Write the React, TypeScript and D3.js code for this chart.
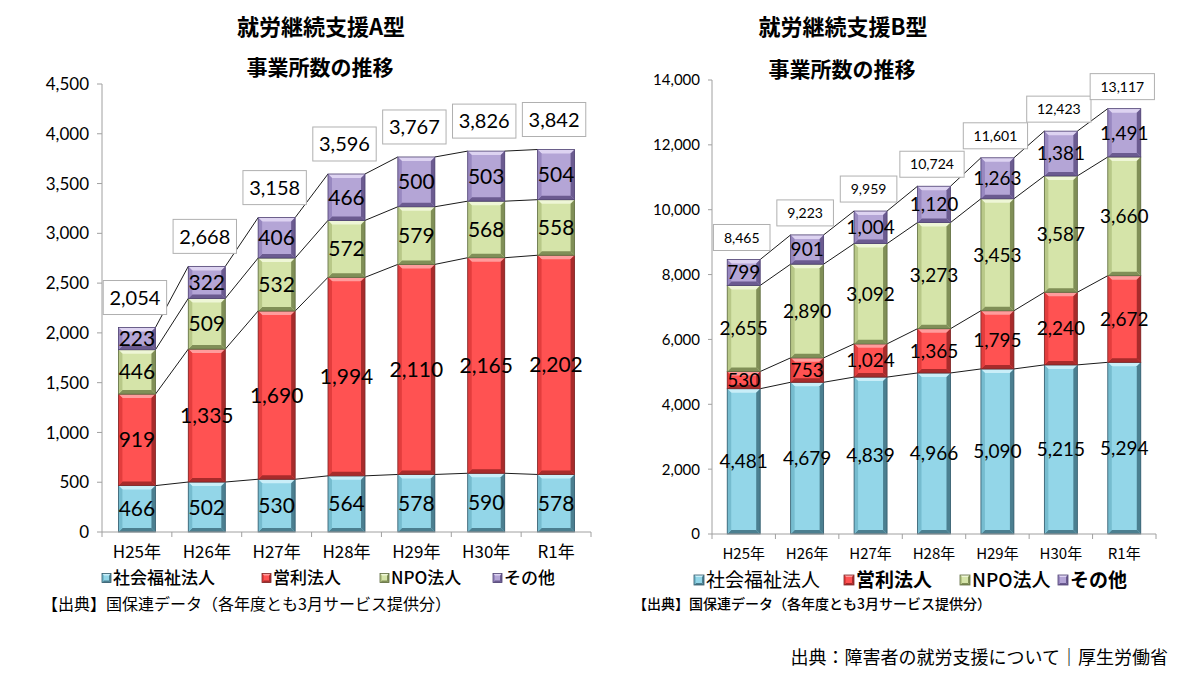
import React from 'react';
import * as d3 from 'd3';

const categories = ['H25年', 'H26年', 'H27年', 'H28年', 'H29年', 'H30年', 'R1年'];
const seriesNames = ['社会福祉法人', '営利法人', 'NPO法人', 'その他'];

// 就労継続支援A型
const aSocial = [466, 502, 530, 564, 578, 590, 578];
const aCorp = [919, 1335, 1690, 1994, 2110, 2165, 2202];
const aNpo = [446, 509, 532, 572, 579, 568, 558];
const aOther = [223, 322, 406, 466, 500, 503, 504];
const aTotals = [2054, 2668, 3158, 3596, 3767, 3826, 3842];
const aTicks = [0, 500, 1000, 1500, 2000, 2500, 3000, 3500, 4000, 4500];

// 就労継続支援B型
const bSocial = [4481, 4679, 4839, 4966, 5090, 5215, 5294];
const bCorp = [530, 753, 1024, 1365, 1795, 2240, 2672];
const bNpo = [2655, 2890, 3092, 3273, 3453, 3587, 3660];
const bOther = [799, 901, 1004, 1120, 1263, 1381, 1491];
const bTotals = [8465, 9223, 9959, 10724, 11601, 12423, 13117];
const bTicks = [0, 2000, 4000, 6000, 8000, 10000, 12000, 14000];

const palette = [
  { base: '#93d6e8', light: '#c9eef8', side: '#76bccf', dark: '#4b7f90', stroke: '#33596a' },
  { base: '#ff5252', light: '#ff9c9c', side: '#e33d3d', dark: '#a82b2b', stroke: '#7a2a2a' },
  { base: '#d5e4a9', light: '#eef6d6', side: '#b8c888', dark: '#808f57', stroke: '#5e6b40' },
  { base: '#b4a5d6', light: '#ddd3f1', side: '#9888c0', dark: '#6b5b90', stroke: '#4f4272' },
];

const NUM_FONT = "Lato, 'Noto Sans', sans-serif";
const JP_FONT = "'Noto Sans CJK JP', 'Noto Sans', sans-serif";
const fmt = d3.format(',');

function Bevel({ x, y, w, h, c, d0 = 4 }: any) {
  const d = Math.max(0, Math.min(d0, h / 3, w / 3));
  const p = (pts: number[][]) => pts.map((q) => q.join(',')).join(' ');
  return (
    <g>
      <rect x={x} y={y} width={w} height={h} fill={c.base} />
      <polygon points={p([[x, y], [x + w, y], [x + w - d, y + d], [x + d, y + d]])} fill={c.light} />
      <polygon points={p([[x, y + h], [x + w, y + h], [x + w - d, y + h - d], [x + d, y + h - d]])} fill={c.dark} />
      <polygon points={p([[x, y], [x + d, y + d], [x + d, y + h - d], [x, y + h]])} fill={c.side} />
      <polygon points={p([[x + w, y], [x + w - d, y + d], [x + w - d, y + h - d], [x + w, y + h]])} fill={c.dark} />
      <rect x={x} y={y} width={w} height={h} fill="none" stroke={c.stroke} strokeWidth={0.8} />
    </g>
  );
}

function StackChart(props: any) {
  const { xr, yr, max, ticks, values, totals, pi, segFont, tickFont, catFont, boxFont, boxH, boxGap, boxPad, tickLen } = props;
  const x = d3.scaleBand<string>().domain(categories).range(xr).paddingInner(pi).paddingOuter(pi / 2);
  const y = d3.scaleLinear().domain([0, max]).range(yr);
  const bw = x.bandwidth();
  const step = x.step();
  const rows = categories.map((c, i) => ({ cat: c, s0: values[0][i], s1: values[1][i], s2: values[2][i], s3: values[3][i] }));
  const layers = d3.stack<any>().keys(['s0', 's1', 's2', 's3'])(rows);
  const y0 = y(0);
  const boxW = (v: number) => {
    const s = fmt(v);
    const digits = s.replace(/,/g, '').length;
    const commas = s.length - digits;
    return (digits * 0.55 + commas * 0.27) * boxFont + boxPad;
  };
  return (
    <g>
      {layers.map((layer, li) =>
        layer.slice(0, -1).map((pt, i) => (
          <line
            key={`sl${li}-${i}`}
            x1={(x(categories[i]) as number) + bw}
            y1={y(pt[1])}
            x2={x(categories[i + 1]) as number}
            y2={y(layer[i + 1][1])}
            stroke="#000"
            strokeWidth={0.9}
          />
        ))
      )}
      {layers.map((layer, li) =>
        layer.map((pt, i) => (
          <Bevel key={`b${li}-${i}`} x={x(categories[i])} y={y(pt[1])} w={bw} h={y(pt[0]) - y(pt[1])} c={palette[li]} />
        ))
      )}
      {layers.map((layer, li) =>
        layer.map((pt, i) => (
          <text
            key={`t${li}-${i}`}
            x={(x(categories[i]) as number) + bw / 2}
            y={(y(pt[0]) + y(pt[1])) / 2}
            dy="0.36em"
            textAnchor="middle"
            fontFamily={NUM_FONT}
            fontSize={segFont}
            fill="#000"
          >
            {fmt(values[li][i])}
          </text>
        ))
      )}
      {totals.map((t: number, i: number) => {
        const w = boxW(t);
        const cx = (x(categories[i]) as number) + bw / 2 - 2;
        const by = y(t) - boxGap - boxH;
        return (
          <g key={`tot${i}`}>
            <rect x={cx - w / 2} y={by} width={w} height={boxH} fill="#fff" stroke="#b0b0b0" strokeWidth={1} />
            <text x={cx} y={by + boxH / 2} dy="0.36em" textAnchor="middle" fontFamily={NUM_FONT} fontSize={boxFont} fill="#000">
              {fmt(t)}
            </text>
          </g>
        );
      })}
      <line x1={xr[0]} x2={xr[0]} y1={y(0)} y2={y(max)} stroke="#a0a0a0" strokeWidth={1} />
      {ticks.map((t: number) => (
        <g key={`yt${t}`}>
          <line x1={xr[0] - tickLen} x2={xr[0]} y1={y(t)} y2={y(t)} stroke="#a0a0a0" strokeWidth={1} />
          <text x={xr[0] - tickLen - 8} y={y(t)} dy="0.36em" textAnchor="end" fontFamily={NUM_FONT} fontSize={tickFont} fill="#000">
            {fmt(t)}
          </text>
        </g>
      ))}
      <line x1={xr[0]} x2={xr[1]} y1={y0} y2={y0} stroke="#a0a0a0" strokeWidth={1} />
      {d3.range(categories.length + 1).map((k) => (
        <line key={`xt${k}`} x1={xr[0] + k * step} x2={xr[0] + k * step} y1={y0} y2={y0 + 5} stroke="#a0a0a0" strokeWidth={1} />
      ))}
      {categories.map((c) => (
        <text
          key={`xl${c}`}
          x={(x(c) as number) + bw / 2}
          y={y0 + 20}
          dy="0.36em"
          textAnchor="middle"
          fontFamily={JP_FONT}
          fontSize={catFont}
          fill="#000"
        >
          {c}
        </text>
      ))}
    </g>
  );
}

function Legend({ xs, y, font, sq, weights }: any) {
  return (
    <g>
      {seriesNames.map((n, i) => (
        <g key={n}>
          <Bevel x={xs[i]} y={y - sq / 2} w={sq} h={sq} c={palette[i]} d0={2} />
          <text x={xs[i] + sq + 2} y={y} dy="0.36em" fontFamily={JP_FONT} fontSize={font} fontWeight={weights[i]} fill="#000">
            {n}
          </text>
        </g>
      ))}
    </g>
  );
}

export default function App() {
  return (
    <svg width={1200} height={676} style={{ position: 'absolute', left: 0, top: 0, background: '#fff' }} xmlns="http://www.w3.org/2000/svg">
      <rect x={0} y={0} width={1200} height={676} fill="#fff" />
      <text x={321} y={27} dy="0.36em" textAnchor="middle" fontFamily={JP_FONT} fontWeight={700} fontSize={22} fill="#000">
        就労継続支援A型
      </text>
      <text x={320} y={67} dy="0.36em" textAnchor="middle" fontFamily={JP_FONT} fontWeight={700} fontSize={21} fill="#000">
        事業所数の推移
      </text>
      <text x={843} y={27} dy="0.36em" textAnchor="middle" fontFamily={JP_FONT} fontWeight={700} fontSize={22} fill="#000">
        就労継続支援B型
      </text>
      <text x={842} y={69} dy="0.36em" textAnchor="middle" fontFamily={JP_FONT} fontWeight={700} fontSize={21} fill="#000">
        事業所数の推移
      </text>

      <StackChart
        xr={[102, 591]}
        yr={[532, 84]}
        max={4500}
        ticks={aTicks}
        values={[aSocial, aCorp, aNpo, aOther]}
        totals={aTotals}
        pi={0.47}
        segFont={21}
        tickFont={17}
        catFont={17}
        boxFont={20}
        boxH={34}
        boxGap={13}
        boxPad={14}
        tickLen={5}
      />
      <StackChart
        xr={[712, 1156]}
        yr={[534, 80]}
        max={14000}
        ticks={bTicks}
        values={[bSocial, bCorp, bNpo, bOther]}
        totals={bTotals}
        pi={0.48}
        segFont={19}
        tickFont={15}
        catFont={15}
        boxFont={14}
        boxH={26}
        boxGap={9}
        boxPad={22}
        tickLen={4}
      />

      <Legend xs={[102, 262, 380, 493]} y={578} font={17} sq={9} weights={[500, 500, 500, 500]} />
      <text x={42} y={604} dy="0.36em" fontFamily={JP_FONT} fontSize={16} fill="#000">
        【出典】国保連データ（各年度とも3月サービス提供分）
      </text>

      <Legend xs={[694, 844, 960, 1058]} y={580} font={19} sq={10} weights={[400, 700, 500, 700]} />
      <text x={633} y={604} dy="0.36em" fontFamily={JP_FONT} fontSize={14} fontWeight={500} fill="#000">
        【出典】国保連データ（各年度とも3月サービス提供分）
      </text>

      <text x={1168} y={658} dy="0.36em" textAnchor="end" fontFamily={JP_FONT} fontSize={18} fill="#000">
        出典：障害者の就労支援について｜厚生労働省
      </text>
    </svg>
  );
}
